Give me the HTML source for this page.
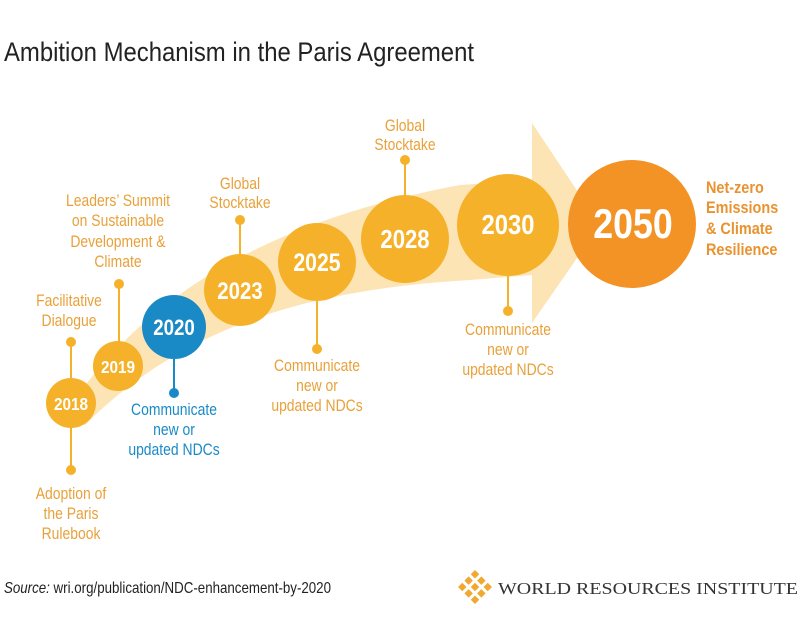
<!DOCTYPE html>
<html><head><meta charset="utf-8"><style>
body{margin:0;background:#fff;}
svg{display:block}
.t{font-family:"Liberation Sans Narrow","Liberation Sans",sans-serif;fill:#e8a13a;font-size:17px;text-anchor:middle}
.y{font-family:"Liberation Sans Narrow","Liberation Sans",sans-serif;fill:#fff;font-weight:bold;text-anchor:middle}
</style></head><body>
<svg width="800" height="627" viewBox="0 0 800 627" xmlns="http://www.w3.org/2000/svg">
<text x="4" y="61" font-family="Liberation Sans Narrow,Liberation Sans,sans-serif" font-size="27" fill="#222" textLength="470" lengthAdjust="spacingAndGlyphs">Ambition Mechanism in the Paris Agreement</text>
<path d="M60,420 C120,330 220,230 460,185 L532,180 L532,123 L600,225 L532,323 L532,275 L470,280 C300,290 180,330 85,425 Z" fill="#fde4b4"/>
<g stroke="#f5b12a" stroke-width="2">
<line x1="71" y1="342" x2="71" y2="470"/><line x1="119" y1="284" x2="119" y2="350"/>
<line x1="240" y1="220" x2="240" y2="260"/><line x1="317" y1="290" x2="317" y2="349"/>
<line x1="405" y1="160" x2="405" y2="200"/><line x1="508" y1="260" x2="508" y2="311"/>
</g>
<line x1="174" y1="340" x2="174" y2="393" stroke="#1a8ac6" stroke-width="2"/>
<g fill="#f5b12a">
<circle cx="71" cy="342" r="5"/><circle cx="71" cy="470" r="5"/><circle cx="119" cy="284" r="5"/>
<circle cx="240" cy="220" r="5"/><circle cx="317" cy="349" r="5"/><circle cx="405" cy="160" r="5"/><circle cx="508" cy="311" r="5"/>
<circle cx="71" cy="403" r="25"/><circle cx="118" cy="366" r="25"/><circle cx="240" cy="290" r="36"/>
<circle cx="317" cy="262" r="39"/><circle cx="405" cy="239" r="44"/><circle cx="508" cy="225" r="51"/>
</g>
<circle cx="174" cy="393" r="5" fill="#1a8ac6"/>
<circle cx="174" cy="327" r="32" fill="#1a8ac6"/>
<circle cx="632" cy="224" r="64" fill="#f39325"/>
<g transform="translate(71,0) scale(0.85,1) translate(-71,0)"><text class="y" x="71" y="410" font-size="18">2018</text></g>
<g transform="translate(118,0) scale(0.85,1) translate(-118,0)"><text class="y" x="118" y="373" font-size="18">2019</text></g>
<g transform="translate(174,0) scale(0.85,1) translate(-174,0)"><text class="y" x="174" y="335" font-size="22">2020</text></g>
<g transform="translate(240,0) scale(0.85,1) translate(-240,0)"><text class="y" x="240" y="299" font-size="24">2023</text></g>
<g transform="translate(317,0) scale(0.85,1) translate(-317,0)"><text class="y" x="317" y="271" font-size="25">2025</text></g>
<g transform="translate(405,0) scale(0.85,1) translate(-405,0)"><text class="y" x="405" y="248" font-size="26">2028</text></g>
<g transform="translate(508,0) scale(0.85,1) translate(-508,0)"><text class="y" x="508" y="234" font-size="28">2030</text></g>
<g transform="translate(633,0) scale(0.85,1) translate(-633,0)"><text class="y" x="633" y="238" font-size="42">2050</text></g>
<g class="t">
<g transform="translate(69,0) scale(0.82,1) translate(-69,0)"><text x="69" y="306">Facilitative</text><text x="69" y="326">Dialogue</text></g>
<g transform="translate(71,0) scale(0.82,1) translate(-71,0)"><text x="71" y="499">Adoption of</text><text x="71" y="519">the Paris</text><text x="71" y="539">Rulebook</text></g>
<g transform="translate(118,0) scale(0.82,1) translate(-118,0)"><text x="118" y="206">Leaders’ Summit</text><text x="118" y="226">on Sustainable</text><text x="118" y="247">Development &amp;</text><text x="118" y="267">Climate</text></g>
<g transform="translate(240,0) scale(0.82,1) translate(-240,0)"><text x="240" y="189">Global</text><text x="240" y="208">Stocktake</text></g>
<g transform="translate(317,0) scale(0.82,1) translate(-317,0)"><text x="317" y="371">Communicate</text><text x="317" y="391">new or</text><text x="317" y="411">updated NDCs</text></g>
<g transform="translate(405,0) scale(0.82,1) translate(-405,0)"><text x="405" y="131">Global</text><text x="405" y="150">Stocktake</text></g>
<g transform="translate(508,0) scale(0.82,1) translate(-508,0)"><text x="508" y="335">Communicate</text><text x="508" y="355">new or</text><text x="508" y="375">updated NDCs</text></g>
<g transform="translate(174,0) scale(0.82,1) translate(-174,0)"><text x="174" y="415" style="fill:#1a8ac6">Communicate</text><text x="174" y="435" style="fill:#1a8ac6">new or</text><text x="174" y="455" style="fill:#1a8ac6">updated NDCs</text></g>
</g>
<g transform="translate(706,0) scale(0.85,1) translate(-706,0)" font-family="Liberation Sans Narrow,Liberation Sans,sans-serif" font-weight="bold" font-size="17" fill="#e8932f">
<text x="706" y="193">Net-zero</text><text x="706" y="213">Emissions</text><text x="706" y="234">&amp; Climate</text><text x="706" y="255">Resilience</text>
</g>
<text x="4" y="593" font-family="Liberation Sans Narrow,Liberation Sans,sans-serif" font-size="16" fill="#222" textLength="327" lengthAdjust="spacingAndGlyphs"><tspan font-style="italic">Source:</tspan> wri.org/publication/NDC-enhancement-by-2020</text>
<g fill="#f0a830" transform="translate(475,587) rotate(45)">
<rect x="-12" y="-12" width="6" height="6"/><rect x="-3" y="-12" width="6" height="6"/><rect x="6" y="-12" width="6" height="6"/>
<rect x="-12" y="-3" width="6" height="6"/><rect x="-3" y="-3" width="6" height="6"/><rect x="6" y="-3" width="6" height="6"/>
<rect x="-12" y="6" width="6" height="6"/><rect x="-3" y="6" width="6" height="6"/><rect x="6" y="6" width="6" height="6"/>
</g>
<text x="498" y="594" font-family="Liberation Serif,serif" font-size="17" fill="#333" textLength="300" lengthAdjust="spacingAndGlyphs">WORLD RESOURCES INSTITUTE</text>
</svg>
</body></html>
